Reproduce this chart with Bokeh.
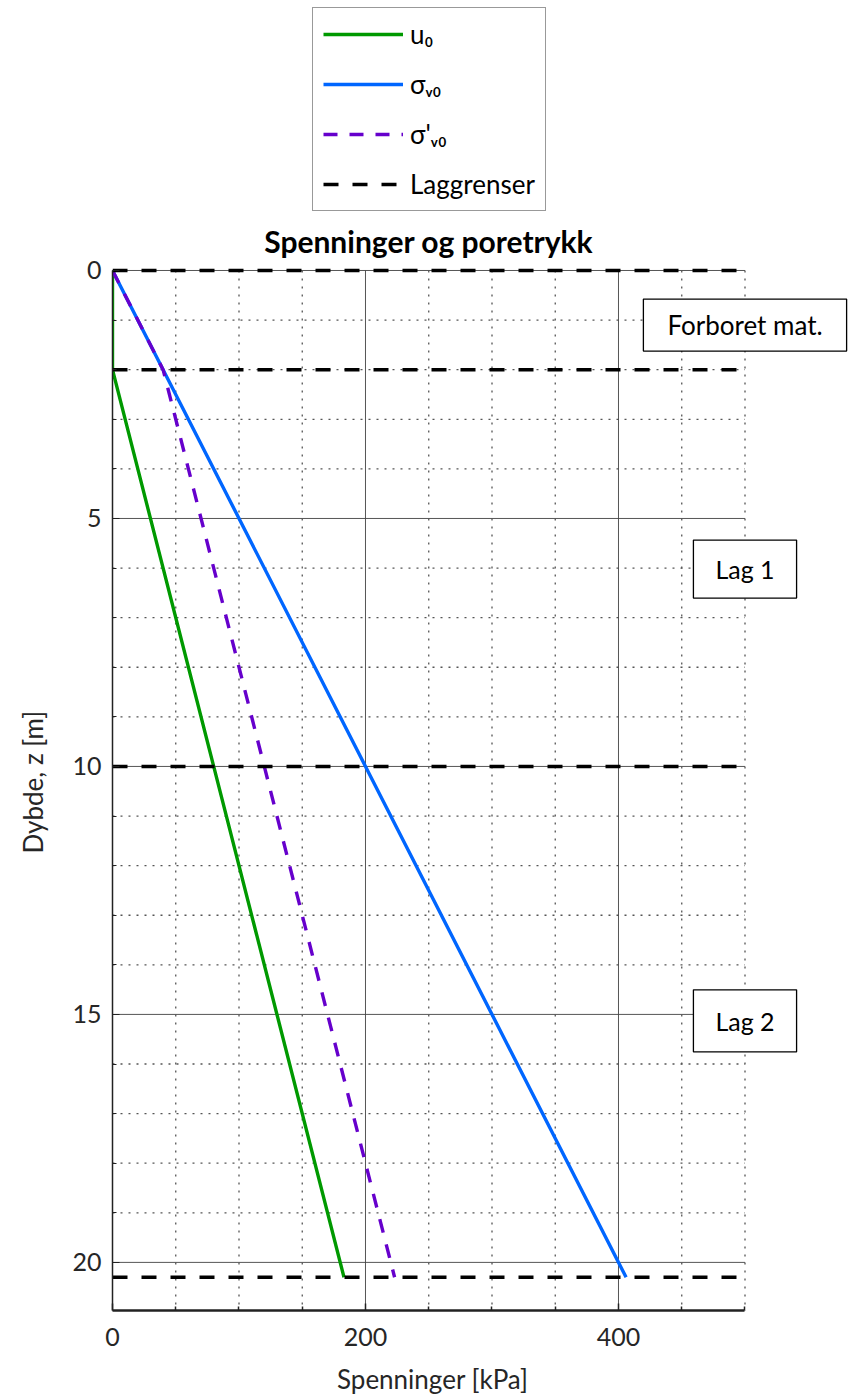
from bokeh.plotting import figure
from bokeh.models import Range1d, FixedTicker, Legend, LegendItem, Label
from bokeh.embed import file_html
from bokeh.resources import INLINE

# ---- data ----
z_points = [0, 2, 10, 20.3]          # depth of layer boundaries [m]
u0 = [0, 0, 80, 183]                 # pore pressure [kPa]
sigma_v0 = [0, 40, 200, 406]         # total vertical stress [kPa]
sigma_eff_v0 = [0, 40, 120, 223]     # effective vertical stress [kPa]
layer_bounds = [0, 2, 10, 20.3]      # layer boundaries [m]

x_lim = [0, 500]
z_lim = [0, 21]
x_major = [0, 200, 400]
x_minor = [50, 100, 150, 250, 300, 350, 450, 500]
y_major = [0, 5, 10, 15, 20]
y_minor = [1, 2, 3, 4, 6, 7, 8, 9, 11, 12, 13, 14, 16, 17, 18, 19]

layer_names = ["Forboret mat.", "Lag 1", "Lag 2"]
layer_label_z = [1.1, 6.02, 15.13]
layer_label_x = 500

FONT = "Lato"
EM = "\u2003"

# frame spans the whole width right of the y-axis and up to the top of the canvas,
# so that the legend, title and layer boxes are not clipped
p = figure(width=850, height=1397, x_range=Range1d(0, 583.4), y_range=Range1d(20.97, -5.444),
           output_backend="svg", toolbar_location=None,
           min_border_left=112, min_border_right=0, min_border_top=0, min_border_bottom=87)
p.outline_line_color = None
p.background_fill_color = "white"
p.xgrid.visible = False
p.ygrid.visible = False

# axes
p.xaxis.ticker = FixedTicker(ticks=x_major, minor_ticks=x_minor)
p.yaxis.ticker = FixedTicker(ticks=y_major, minor_ticks=y_minor)
p.xaxis.bounds = tuple(x_lim)
p.yaxis.bounds = tuple(z_lim)
for ax in (p.xaxis, p.yaxis):
    ax.major_tick_in = 7
    ax.major_tick_out = 0
    ax.minor_tick_in = 4
    ax.minor_tick_out = 0
    ax.major_tick_line_color = "#222222"
    ax.minor_tick_line_color = "#222222"
    ax.axis_line_color = "#222222"
    ax.major_label_text_font = FONT
    ax.major_label_text_font_size = "25px"
    ax.major_label_text_color = "#262626"
    ax.axis_label_text_font = FONT
    ax.axis_label_text_font_size = "26px"
    ax.axis_label_text_font_style = "normal"
    ax.axis_label_text_color = "#262626"
p.xaxis.axis_line_width = 2.5
p.xaxis.major_tick_line_width = 1.5
p.xaxis.minor_tick_line_width = 1.5
p.yaxis.axis_line_width = 1.5
# em spaces shift the centred labels to the middle of the 0-500 / 0-21 axes box
p.xaxis.axis_label = "Spenninger [kPa]" + EM * 5
p.yaxis.axis_label = "Dybde, z [m]" + EM * 13
p.xaxis.major_label_standoff = 17
p.xaxis.axis_label_standoff = 14
p.yaxis.major_label_standoff = 11
p.yaxis.axis_label_standoff = 20

# grid lines (limited to the axes box)
p.segment(x0=x_lim[0], x1=x_lim[1], y0=y_major, y1=y_major,
          line_color="#444444", line_width=1, line_alpha=0.9)
p.segment(x0=x_lim[0], x1=x_lim[1], y0=y_minor, y1=y_minor,
          line_color="#555555", line_width=1.3, line_dash="2 6")
p.segment(x0=x_major[1:], x1=x_major[1:], y0=z_lim[0], y1=z_lim[1],
          line_color="#444444", line_width=1, line_alpha=0.9)
p.segment(x0=x_minor, x1=x_minor, y0=z_lim[0], y1=z_lim[1],
          line_color="#555555", line_width=1.3, line_dash="2 6")

# data lines
r_u = p.line(u0, z_points, line_color="#009900", line_width=3.4)
r_s = p.line(sigma_v0, z_points, line_color="#0066FF", line_width=3.4)
r_e = p.line(sigma_eff_v0, z_points, line_color="#6600CC", line_width=3.4, line_dash="14 12")
r_b = p.multi_line([x_lim for _ in layer_bounds], [[zb, zb] for zb in layer_bounds],
                   line_color="black", line_width=3.5, line_dash="15 14")

# layer labels
box_pad = [{"left": 24, "right": 24, "top": 10, "bottom": 10},
           {"left": 22, "right": 22, "top": 14, "bottom": 14},
           {"left": 22, "right": 22, "top": 16, "bottom": 16}]
box_font = ["26px", "25px", "25px"]
for name, zl, pad, fs in zip(layer_names, layer_label_z, box_pad, box_font):
    p.add_layout(Label(x=layer_label_x, y=zl, text=name, text_align="center",
                       text_baseline="middle", text_font=FONT, text_font_size=fs,
                       text_color="black", border_line_color="black", border_line_width=1.3,
                       background_fill_color="white", background_fill_alpha=1.0,
                       padding=pad))

# title
p.add_layout(Label(x=250, y=-0.6, text="Spenninger og poretrykk", text_align="center",
                   text_baseline="middle", text_font=FONT, text_font_size="30px",
                   text_font_style="bold", text_color="black"))

legend = Legend(items=[
    LegendItem(label="u₀", renderers=[r_u]),
    LegendItem(label="σᵥ₀", renderers=[r_s]),
    LegendItem(label="σ'ᵥ₀", renderers=[r_e]),
    LegendItem(label="Laggrenser", renderers=[r_b]),
], location=(200, 1099), orientation="vertical",
    label_text_font=FONT, label_text_font_size="26px", label_text_color="black",
    glyph_width=80, glyph_height=32, label_height=32, spacing=18, padding=10,
    label_standoff=7, border_line_color="#333333", border_line_width=1.5,
    background_fill_alpha=1.0, margin=0)
p.add_layout(legend, "center")

open("out.html", "w").write(file_html(p, INLINE))
